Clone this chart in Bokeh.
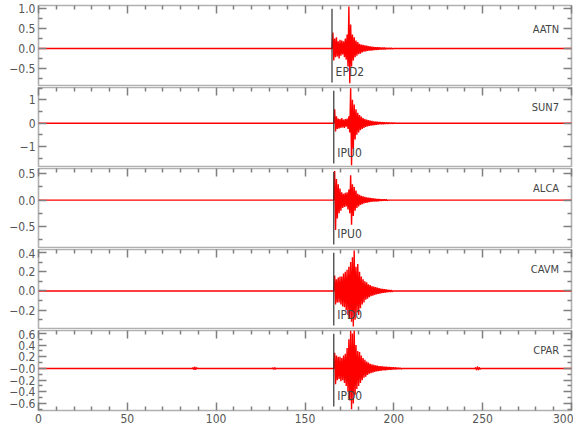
import numpy as np
from bokeh.plotting import figure
from bokeh.layouts import column
from bokeh.models import Range1d, LinearAxis, FixedTicker
from bokeh.core.properties import value
from bokeh.embed import file_html
from bokeh.resources import INLINE

FONT = "DejaVu Sans Condensed"

# ---------------- data ----------------
stations = ["AATN", "SUN7", "ALCA", "CAVM", "CPAR"]
phases = ["EPD2", "IPU0", "IPU0", "IPD0", "IPD0"]
pick_times = [165.2, 166.2, 166.2, 166.2, 166.2]
sample_step = 0.5

aatn = [0, 0.40, -0.30, 0.25, -0.22, 0.28, -0.20, 0.18, -0.25, 0.22, -0.18, 0.20, -0.15, 0.18, -0.22,
        0.25, -0.28, 0.35, -0.45, 1.05, -0.87, 0.60, -0.45, 0.35, -0.30, 0.28, -0.22, 0.20, -0.18,
        0.16, -0.14, 0.12, -0.13, 0.10, -0.10, 0.09, -0.08, 0.08, -0.07, 0.07, -0.06, 0.06, -0.055,
        0.05, -0.05, 0.045, -0.045, 0.04, -0.04, 0.035, -0.035, 0.03, -0.03, 0.03, -0.028, 0.025,
        -0.025, 0.022, -0.022, 0.02, -0.02, 0.018, -0.018, 0.015, -0.015, 0.012, -0.012, 0.01, -0.01, 0]
sun7 = [0, 0.6, -0.35, 0.3, -0.25, 0.2, -0.22, 0.18, -0.2, 0.22, -0.18, 0.15, -0.2, 0.18, -0.15, 0.2,
        -0.25, 0.3, -0.4, 1.5, -1.8, 1.0, -1.1, 0.8, -0.7, 0.6, -0.5, 0.45, -0.4, 0.35, -0.3, 0.28,
        -0.25, 0.22, -0.2, 0.18, -0.16, 0.15, -0.14, 0.13, -0.12, 0.11, -0.1, 0.1, -0.09, 0.08, -0.08,
        0.07, -0.07, 0.06, -0.06, 0.05, -0.05, 0.05, -0.045, 0.04, -0.04, 0.035, -0.035, 0.03, -0.03,
        0.028, -0.025, 0.022, -0.02, 0.02, -0.018, 0.015, -0.015, 0.012, -0.01, 0]
alca = [0, 0.55, -0.57, 0.4, -0.35, 0.3, -0.25, 0.22, -0.2, 0.15, -0.15, 0.12, -0.13, 0.14, -0.12, 0.15,
        -0.18, 0.2, -0.25, 0.47, -0.47, 0.3, -0.3, 0.25, -0.2, 0.18, -0.15, 0.12, -0.12, 0.1, -0.09,
        0.08, -0.08, 0.07, -0.065, 0.06, -0.055, 0.05, -0.05, 0.045, -0.04, 0.04, -0.035, 0.035, -0.03,
        0.03, -0.028, 0.025, -0.025, 0.022, -0.02, 0.02, -0.018, 0.016, -0.015, 0.014, -0.012, 0.012,
        -0.01, 0.01, -0.01, 0]
cavm = [0, 0.16, -0.14, 0.12, -0.12, 0.14, -0.12, 0.15, -0.14, 0.15, -0.16, 0.18, -0.17, 0.2, -0.2,
        0.22, -0.25, 0.25, -0.28, 0.3, -0.32, 0.35, -0.37, 0.42, -0.3, 0.25, -0.22, 0.28, -0.25, 0.2,
        -0.18, 0.15, -0.14, 0.12, -0.12, 0.1, -0.09, 0.09, -0.08, 0.07, -0.065, 0.06, -0.055, 0.05,
        -0.05, 0.045, -0.04, 0.04, -0.035, 0.035, -0.03, 0.03, -0.028, 0.025, -0.022, 0.02, -0.02,
        0.018, -0.016, 0.015, -0.014, 0.012, -0.012, 0.01, -0.01, 0.008, -0.008, 0]
cpar = [0, 0.27, -0.27, 0.22, -0.2, 0.2, -0.18, 0.2, -0.22, 0.18, -0.2, 0.22, -0.25, 0.25, -0.3, 0.35,
        -0.4, 0.5, -0.55, 0.65, -0.7, 0.6, -0.6, 0.65, -0.45, 0.4, -0.35, 0.3, -0.3, 0.28, -0.25, 0.22,
        -0.2, 0.18, -0.16, 0.15, -0.14, 0.12, -0.11, 0.1, -0.09, 0.08, -0.08, 0.07, -0.07, 0.06, -0.06,
        0.055, -0.05, 0.05, -0.045, 0.04, -0.04, 0.04, -0.035, 0.035, -0.03, 0.03, -0.03, 0.03, -0.028,
        0.025, -0.025, 0.025, -0.022, 0.02, -0.02, 0.02, -0.018, 0.018, -0.015, 0.015, -0.012, 0.012,
        -0.01, 0.01, -0.01, 0]
traces = [aatn, sun7, alca, cavm, cpar]

# small noise bursts on CPAR
cpar_burst_starts = [86.5, 131.5, 245.5]
cpar_burst1 = [0, 0.02, -0.025, 0.03, -0.025, 0.02, 0]
cpar_burst2 = [0, 0.015, -0.02, 0.02, -0.015, 0]
cpar_burst3 = [0, 0.02, -0.03, 0.035, -0.03, 0.025, -0.02, 0]
cpar_bursts = [cpar_burst1, cpar_burst2, cpar_burst3]

x_start, x_end = 0, 300
y_lows = [-0.95, -1.9, -0.92, -0.40, -0.72]
y_highs = [1.075, 1.53, 0.60, 0.43, 0.65]
y_major = [[-0.5, 0.0, 0.5, 1.0], [-1, 0, 1], [-0.5, 0.0, 0.5],
           [-0.2, 0.0, 0.2, 0.4], [-0.6, -0.4, -0.2, 0.0, 0.2, 0.4, 0.6]]
y_major_labels = [["−0.5", "0.0", "0.5", "1.0"], ["−1", "0", "1"], ["−0.5", "0.0", "0.5"],
                  ["−0.2", "0.0", "0.2", "0.4"], ["−0.6", "−0.4", "−0.2", "−0.0", "0.2", "0.4", "0.6"]]
y_minor = [[-0.75, -0.25, 0.25, 0.75], [-1.5, -0.5, 0.5, 1.5], [-0.75, -0.25, 0.25],
           [-0.3, -0.1, 0.1, 0.3], [-0.7, -0.5, -0.3, -0.1, 0.1, 0.3, 0.5]]
x_major = [0, 50, 100, 150, 200, 250, 300]
x_minor = [10, 20, 30, 40, 60, 70, 80, 90, 110, 120, 130, 140, 160, 170, 180, 190,
           210, 220, 230, 240, 260, 270, 280, 290]

# ---------------- styling ----------------
fig_heights = [86, 81, 81, 81, 101]
top_borders = [5, 1, 1, 1, 1]
TICK_COLOR = "#808080"
LABEL_COLOR = "#555555"

x_range = Range1d(x_start, x_end)


def style_axis(ax, ticks, show_labels, labels=None):
    ax.axis_line_color = None
    ax.major_tick_in = 8
    ax.major_tick_out = 0
    ax.minor_tick_in = 4
    ax.minor_tick_out = 0
    ax.major_tick_line_color = TICK_COLOR
    ax.minor_tick_line_color = TICK_COLOR
    ax.major_tick_line_width = 1.5
    ax.minor_tick_line_width = 1.5
    ax.major_label_text_font = FONT
    if show_labels:
        ax.major_label_text_font_size = "12px"
        ax.major_label_text_color = LABEL_COLOR
        ax.major_label_standoff = 3
        if labels is not None:
            ax.major_label_overrides = {v: s for v, s in zip(ticks, labels)}
    else:
        ax.major_label_text_font_size = "1px"
        ax.major_label_text_alpha = 0
        ax.major_label_standoff = 0
        ax.major_label_overrides = {v: "" for v in ticks}


figs = []
for i in range(5):
    last = i == 4
    lo, hi = y_lows[i], y_highs[i]
    h = hi - lo
    p = figure(width=573, height=fig_heights[i],
               x_range=x_range, y_range=Range1d(lo, hi),
               x_axis_location=None, y_axis_location=None,
               output_backend="svg", toolbar_location=None,
               min_border_left=38, min_border_right=2, min_border_top=top_borders[i],
               min_border_bottom=(20 if last else 0))
    p.outline_line_color = "#b0b0b0"
    p.outline_line_width = 1.6
    p.xgrid.visible = False
    p.ygrid.visible = False

    la = LinearAxis(ticker=FixedTicker(ticks=y_major[i], minor_ticks=y_minor[i]))
    style_axis(la, y_major[i], True, y_major_labels[i])
    p.add_layout(la, "left")
    ra = LinearAxis(ticker=FixedTicker(ticks=y_major[i], minor_ticks=y_minor[i]))
    style_axis(ra, y_major[i], False)
    p.add_layout(ra, "right")

    ta = LinearAxis(ticker=FixedTicker(ticks=x_major, minor_ticks=x_minor))
    style_axis(ta, x_major, False)
    p.add_layout(ta, "above")
    if last:
        ba = LinearAxis(ticker=FixedTicker(ticks=x_major, minor_ticks=x_minor))
        style_axis(ba, x_major, True)
        p.add_layout(ba, "below")

    vals = traces[i]
    t = pick_times[i] + sample_step * np.arange(len(vals))
    xs = np.concatenate([[x_start], t, [x_end]])
    ys = np.concatenate([[0.0], vals, [0.0]])
    p.line(xs, ys, line_color="#ff0000", line_width=1.4)

    if last:
        for st, b in zip(cpar_burst_starts, cpar_bursts):
            bt = st + sample_step * np.arange(len(b))
            p.line(bt, b, line_color="#ff0000", line_width=1)

    p.segment(x0=[pick_times[i]], y0=[lo + 0.05 * h], x1=[pick_times[i]], y1=[lo + 0.96 * h],
              line_color="#333333", line_width=1.2)
    p.text(x=[pick_times[i] + 2], y=[lo + 0.18 * h], text=[phases[i]],
           text_font=value(FONT), text_font_size="12px", text_color="#444444",
           text_align="left", text_baseline="middle")
    st_frac = 0.70 if i == 0 else 0.75
    p.text(x=[293], y=[lo + st_frac * h], text=[stations[i]],
           text_font=value(FONT), text_font_size="11px", text_color="#444444",
           text_align="right", text_baseline="middle")
    figs.append(p)

layout = column(*figs, spacing=0)
open("out.html", "w").write(file_html(layout, INLINE))
